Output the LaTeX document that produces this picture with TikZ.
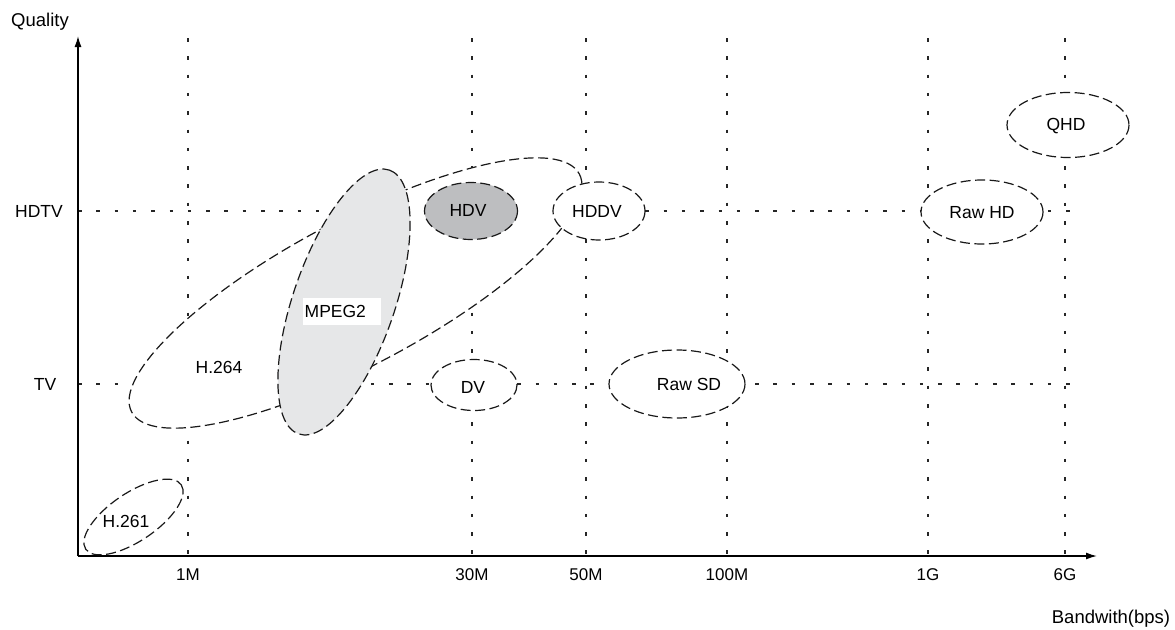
\documentclass[tikz,border=0pt]{standalone}
\usepackage{fontspec}
\setmainfont{Liberation Sans}
\usepackage{xcolor}
\usetikzlibrary{arrows.meta}

\definecolor{lightfill}{RGB}{230,231,232}
\definecolor{darkfill}{RGB}{189,190,192}

\begin{document}
\begin{tikzpicture}[x=1pt,y=-1pt,
        gridline/.style={black!85,line width=1.3pt,dash pattern=on 3.5pt off 14.8pt},
        zone/.style={black!90,line width=1.2pt,dash pattern=on 10pt off 4.5pt,fill=white},
        lbl/.style={inner sep=0pt,font=\fontsize{17.5}{21}\selectfont},
        ticklbl/.style={inner sep=0pt,anchor=base,font=\fontsize{17}{20}\selectfont},
        axtitle/.style={inner sep=0pt,anchor=base,font=\fontsize{18.5}{22}\selectfont}]
    \useasboundingbox (0,0) rectangle (1175,629);

    \coordinate (orig) at (78,556);
    \coordinate (ytop) at (78,36);
    \coordinate (xend) at (1097,556);

    \foreach \gx in {188,472,586,727,928,1065}
        \draw[gridline] (\gx,38) -- (\gx,556);
    \foreach \gy in {211,384}
        \draw[gridline] (78,\gy) -- (1084,\gy);

    \draw[line width=1.4pt,-{Latex[length=11pt,width=7pt]}] (orig) -- (ytop);
    \draw[line width=1.4pt,-{Latex[length=11pt,width=7pt]}] (orig) -- (xend);

    \draw[zone,rotate around={28:(355.5,293)}] (355.5,293) ellipse [x radius=253.5,y radius=72.5];
    \draw[zone,rotate around={34:(133.5,517)}] (133.5,517) ellipse [x radius=57.6,y radius=24];
    \draw[zone,fill=lightfill,rotate around={71:(344,302)}] (344,302) ellipse [x radius=139.5,y radius=50.8];
    \draw[zone,fill=darkfill] (471,211) ellipse [x radius=46.5,y radius=28.5];
    \draw[zone] (599,211) ellipse [x radius=46,y radius=29];
    \draw[zone] (474,385) ellipse [x radius=43,y radius=25.5];
    \draw[zone] (677,384) ellipse [x radius=68,y radius=34];
    \draw[zone] (982,212) ellipse [x radius=61,y radius=32];
    \draw[zone] (1068,125) ellipse [x radius=61,y radius=32.5];

    \node[lbl] (h261) at (126,521) {H.261};
    \node[lbl] (h264) at (219,367) {H.264};
    \node[lbl,fill=white,anchor=west,text width=75pt,inner xsep=1.5pt,minimum height=27pt] (mpeg) at (303,311.5) {MPEG2};
    \node[lbl] (hdv) at (468,210) {HDV};
    \node[lbl] (hddv) at (597,211.5) {HDDV};
    \node[lbl] (dv) at (473,387) {DV};
    \node[lbl] (rawsd) at (689,384) {Raw SD};
    \node[lbl] (rawhd) at (982,213) {Raw HD};
    \node[lbl] (qhd) at (1066,126) {QHD};

    \node[lbl] (hdtv) at (39,211) {HDTV};
    \node[lbl] (tv) at (45,384) {TV};
    \node[axtitle] (quality) at (40,27) {Quality};
    \node[axtitle] (bandwidth) at (1111,623) {Bandwith(bps)};

    \foreach \gx/\t in {188/1M,472/30M,586/50M,727/100M,928/1G,1065/6G}
        \node[ticklbl] (tick\t) at (\gx,580) {\t};
\end{tikzpicture}
\end{document}
